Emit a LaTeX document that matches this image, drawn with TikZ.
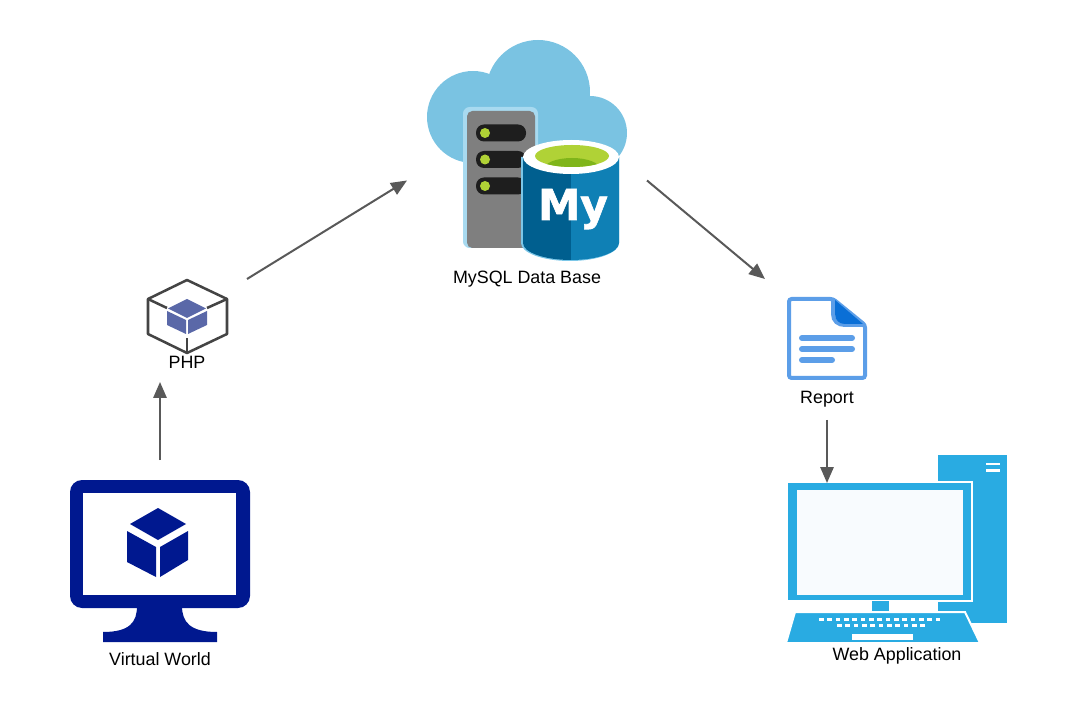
\documentclass[tikz,border=0pt]{standalone}
\usepackage{fontspec}
\setmainfont{Liberation Sans}
\newfontfamily\logofont[BoldFeatures={FakeBold=1.5,LetterSpace=-1}]{DejaVu Sans}
\usepackage{tikz}
\usetikzlibrary{arrows.meta}

\definecolor{arrowgray}{HTML}{595959}
\definecolor{monitornavy}{HTML}{00188F}
\definecolor{cubeblue}{HTML}{5A68A8}
\definecolor{boxline}{HTML}{444444}
\definecolor{docblue}{HTML}{5C9EE8}
\definecolor{docdark}{HTML}{0A6FD6}
\definecolor{pcblue}{HTML}{29ABE2}
\definecolor{screenwhite}{HTML}{F8FBFE}
\definecolor{cloudblue}{HTML}{7AC3E2}
\definecolor{serverrim}{HTML}{A8DAF0}
\definecolor{servergray}{HTML}{7F7F7F}
\definecolor{slotblack}{HTML}{1E1E1E}
\definecolor{limegreen}{HTML}{B0D236}
\definecolor{limedark}{HTML}{7FB51A}
\definecolor{dbdark}{HTML}{005F8F}
\definecolor{dbmid}{HTML}{0F80B5}
\definecolor{dbrim}{HTML}{7CC7E8}

\tikzset{
    iconbox/.style 2 args={inner sep=0pt, outer sep=0pt, minimum width=#1*0.75pt, minimum height=#2*0.75pt},
    caption/.style={inner sep=0pt, font=\fontsize{13.4pt}{16pt}\selectfont},
    flow/.style={draw=arrowgray, line width=1.5pt, -{Triangle[length=12pt, width=10pt]}},
}

\begin{document}
\begin{tikzpicture}[x=0.75pt, y=-0.75pt]
    \useasboundingbox (0,0) rectangle (1077,712);

    % invisible boxes the arrows start and stop on
    \node[iconbox={180}{182}] (world) at (160,551) {};
    \node[iconbox={174}{103}] (php) at (160,330.5) {};
    \node[iconbox={240}{300}] (database) at (527,180.5) {};
    \node[iconbox={124}{141}] (report) at (827,349.5) {};
    \node[iconbox={120}{160}] (webapp) at (827,563) {};

    % draw virtual world monitor
    \fill[monitornavy, rounded corners=9pt] (70,480) rectangle (250,608);
    \fill[monitornavy] (137,606) .. controls (137,622) and (130,632) .. (103,632)
        -- (103,642) -- (217,642) -- (217,632)
        .. controls (190,632) and (182,622) .. (182,606) -- cycle;
    \fill[white] (83,493) rectangle (236,595);
    \fill[monitornavy] (158,508) -- (186,524) -- (158,540) -- (130,524) -- cycle;
    \fill[monitornavy] (127,531) -- (156,547) -- (156,577) -- (127,562) -- cycle;
    \fill[monitornavy] (188,531) -- (160,547) -- (160,577) -- (188,560) -- cycle;

    % draw php box
    \draw[boxline, line width=1.9pt, line join=round]
        (187,280) -- (227,299) -- (227,334) -- (187,353) -- (148,334) -- (148,299) -- cycle;
    \draw[boxline, line width=1.9pt] (148,299) -- (167,308);
    \draw[boxline, line width=1.9pt] (227,299) -- (207,308);
    \draw[boxline, line width=1.9pt] (187,353) -- (187,338);
    \fill[cubeblue] (187,299) -- (206,308.5) -- (187,318) -- (168,308.5) -- cycle;
    \fill[cubeblue] (167,311) -- (186,320) -- (186,334) -- (167,325) -- cycle;
    \fill[cubeblue] (207,311) -- (188,320) -- (188,334) -- (207,325) -- cycle;

    % draw cloud
    \fill[cloudblue] (538,92) circle (52);
    \fill[cloudblue] (473,117) circle (46);
    \fill[cloudblue] (590,133) circle (37);
    \fill[cloudblue] (473,110) rectangle (590,170);

    % draw server
    \fill[serverrim, rounded corners=5pt] (463,107) rectangle (538,248);
    \fill[servergray, rounded corners=4pt] (467,111) rectangle (535,248);
    \foreach \sloty in {133,159.5,186} {
        \fill[slotblack, rounded corners=6pt] (476,\sloty-8.5) rectangle (526,\sloty+8.5);
        \fill[limegreen] (485,\sloty) circle (5);
    }

    % draw mysql cylinder
    \fill[dbrim] (521,157) -- (521,243) arc [x radius=49, y radius=18, start angle=180, end angle=0]
        -- (619,157) -- cycle;
    \fill[dbdark] (523,157) -- (523,243) arc [x radius=48, y radius=17, start angle=180, end angle=90]
        -- (571,157) -- cycle;
    \fill[dbmid] (571,157) -- (571,260) arc [x radius=48, y radius=17, start angle=90, end angle=0]
        -- (619,157) -- cycle;
    \fill[white] (571,157) ellipse [x radius=48, y radius=17];
    \fill[limegreen] (572,156) ellipse [x radius=37, y radius=11];
    \begin{scope}
        \clip (572,156) ellipse [x radius=37, y radius=11];
        \fill[limedark] (572,169) ellipse [x radius=28, y radius=11];
    \end{scope}
    \node[inner sep=0pt, anchor=base, text=white, font=\logofont\bfseries\fontsize{32pt}{32pt}\selectfont] (mylogo) at (573,220) {My};

    % draw report page
    \draw[docblue, fill=white, line width=3pt, rounded corners=2pt]
        (789,299) -- (833,299) -- (865,325) -- (865,378) -- (789,378) -- cycle;
    \draw[docblue, line width=3pt] (833,299) -- (833,314) .. controls (833,321) and (838,325) .. (845,325) -- (865,325);
    \fill[docdark] (835,300) -- (863,324) -- (845,324) .. controls (839,324) and (835,320) .. (835,314) -- cycle;
    \draw[docblue, line width=4.5pt, line cap=round] (802,338) -- (852,338);
    \draw[docblue, line width=4.5pt, line cap=round] (802,349) -- (852,349);
    \draw[docblue, line width=4.5pt, line cap=round] (802,360) -- (832,360);

    % draw computer
    \fill[pcblue] (938,454.5) rectangle (1007,623);
    \fill[white] (986,463) rectangle (1000,465);
    \fill[white] (986,469) rectangle (1000,471.5);
    \fill[white] (788,481) rectangle (973,602);
    \fill[pcblue] (788,483) rectangle (971,600);
    \fill[screenwhite] (797,490) rectangle (963,595);
    \fill[pcblue] (872,601) rectangle (889,611);
    \filldraw[pcblue, draw=white, line width=1.5pt] (795,612) -- (965,612) -- (980,643) -- (786,643) -- cycle;
    \foreach \keyi in {0,...,14}
        \fill[white] (819+\keyi*8.33,617.5) rectangle +(4.7,3.4);
    \foreach \keyi in {0,...,10}
        \fill[white] (837+\keyi*8.33,624) rectangle +(4.7,3.4);
    \fill[white] (852,634) rectangle (913,640);

    % draw labels
    \node[caption] (worldlabel) at (160,659) {Virtual World};
    \node[caption] (phplabel) at (187,362) {PHP};
    \node[caption] (dblabel) at (527,279) {MySQL Data Base};
    \node[caption] (reportlabel) at (827,399) {Report};
    \node[caption] (weblabel) at (897,656) {Web Application};

    % draw arrows
    \draw[flow] (world.north) -- (php.south);
    \draw[flow] (php.north east) -- (database.west);
    \draw[flow] (database.east) -- (report.north west);
    \draw[flow] (report.south) -- (webapp.north);
\end{tikzpicture}
\end{document}
